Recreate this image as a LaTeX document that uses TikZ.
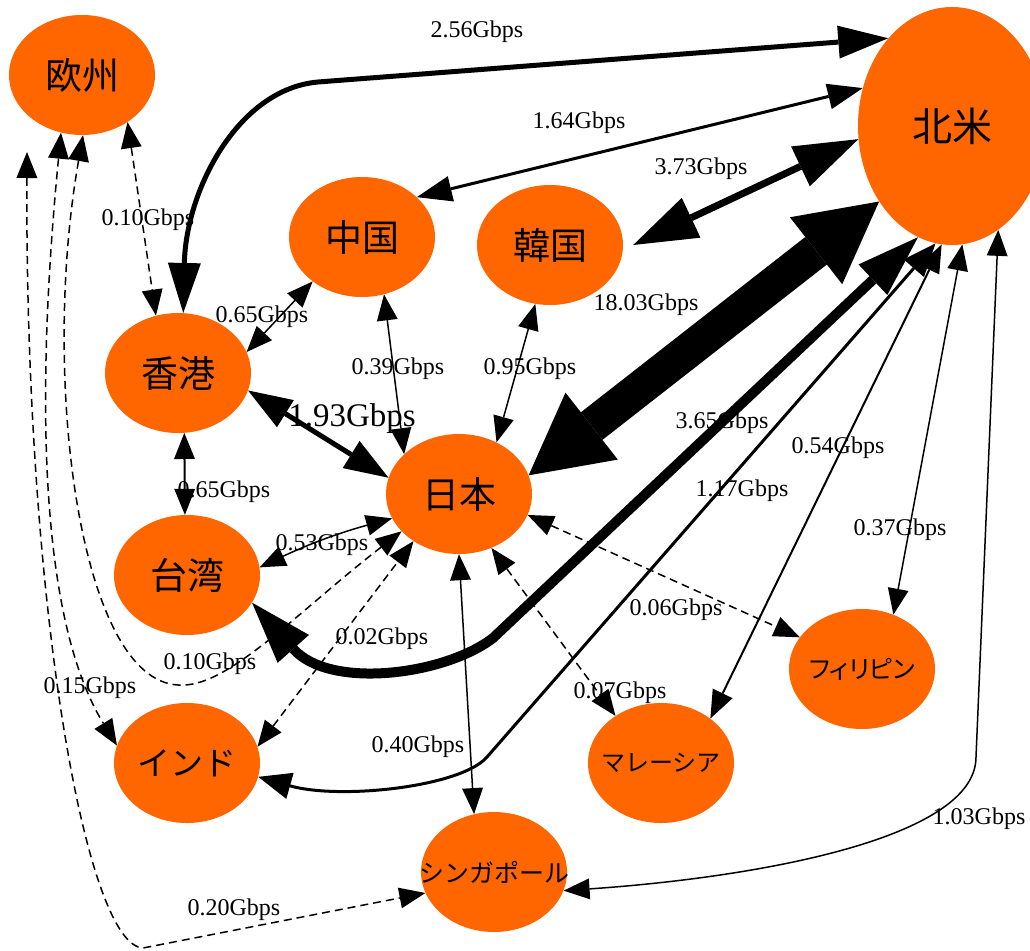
\documentclass[tikz,border=0pt]{standalone}
\usepackage{fontspec}
\setmainfont{Liberation Serif}
\newfontfamily\jp{Noto Sans CJK JP}
\newfontfamily\jpp[RawFeature=+palt]{Noto Sans CJK JP}
\usetikzlibrary{shapes.geometric,arrows.meta}
\definecolor{nodeorange}{HTML}{FF6600}

\begin{document}
\begin{tikzpicture}[
x=1pt, y=-1pt,
region/.style={
	ellipse, fill=nodeorange, inner sep=0pt,
	minimum width=146pt, minimum height=120pt,
	font=\jp\fontsize{37}{44}\selectfont
},
kana/.style={font=\jp\fontsize{#1}{#1}\selectfont, inner xsep=-25pt},
link/.style n args={3}{
	line width=#1pt,
	>={Triangle[length=#2pt,width=#3pt,line width=0pt]}, <->
},
slim/.style={link={1.5}{26}{21}},
dlink/.style={slim, dash pattern=on 8pt off 5pt},
gbps/.style={font=\fontsize{24}{28}\selectfont, inner sep=0pt}
]
\useasboundingbox (0,0) rectangle (1030,950);
% regions
\node[region] (eu) at (82,75) {欧州};
\node[region, minimum width=188pt, minimum height=238pt, kana=40] (usa) at (952,126) {北米};
\node[region] (china) at (362,237) {中国};
\node[region] (korea) at (550,245) {韓国};
\node[region] (hk) at (178,373) {香港};
\node[region] (japan) at (459,494) {日本};
\node[region] (taiwan) at (187,575) {台湾};
\node[region, kana=33] (india) at (187,763) {インド};
\node[region, kana=25] (sg) at (494,872) {シンガポール};
\node[region, kana=24] (my) at (661,763) {マレーシア};
\node[region, kana=25, font=\jpp\fontsize{25}{25}\selectfont] (ph) at (862,669) {フィリピン};
% bends
\coordinate (k256) at (318,82);
\coordinate (k365) at (493,638);
\coordinate (k117) at (487,757);
\coordinate (k103) at (976,757);
\coordinate (k010) at (183,685);
\coordinate (k020) at (143,948);
% traffic labels
\node[gbps] (l256) at (477,32) {2.56Gbps};
\node[gbps] (l164) at (579,123) {1.64Gbps};
\node[gbps] (l373) at (701,169) {3.73Gbps};
\node[gbps] (l1803) at (646,305) {18.03Gbps};
\node[gbps] (l365) at (722,423) {3.65Gbps};
\node[gbps] (l054) at (838,448) {0.54Gbps};
\node[gbps] (l117) at (742,491) {1.17Gbps};
\node[gbps] (l037) at (900,530) {0.37Gbps};
\node[gbps] (l006) at (676,610) {0.06Gbps};
\node[gbps] (l007) at (620,693) {0.07Gbps};
\node[gbps] (l103) at (979,819) {1.03Gbps};
\node[gbps] (l010a) at (148,220) {0.10Gbps};
\node[gbps] (l065a) at (262,317) {0.65Gbps};
\node[gbps] (l039) at (398,369) {0.39Gbps};
\node[gbps] (l095) at (530,369) {0.95Gbps};
\node[gbps, font=\fontsize{33}{38}\selectfont] (l193) at (352,419) {1.93Gbps};
\node[gbps] (l065b) at (224,492) {0.65Gbps};
\node[gbps] (l053) at (322,545) {0.53Gbps};
\node[gbps] (l002) at (382,639) {0.02Gbps};
\node[gbps] (l010b) at (210,664) {0.10Gbps};
\node[gbps] (l015) at (90,688) {0.15Gbps};
\node[gbps] (l040) at (418,747) {0.40Gbps};
\node[gbps] (l020) at (234,910) {0.20Gbps};
% links to north america
\draw[link={5}{50}{33}] (hk.85) .. controls (186,190) and (238,89) .. (k256) -- (usa.126);
\draw[link={3}{35}{26}] (china.36) -- (usa.157);
\draw[link={7}{64}{44}] ([xshift=10pt]korea.east) -- (usa.188);
\draw[link={35}{80}{85}] (japan.15) -- (usa.226);
\draw[link={10}{62}{42}] (taiwan.337) .. controls (330,690) and (445,675) .. (k365) -- (usa.253);
\draw[link={3}{33}{27}] (india.349) .. controls (340,800) and (461,787) .. (k117) -- (usa.262);
\draw[link={2}{28}{22}] (my.42) -- (usa.265);
\draw[slim] (ph.60) -- (usa.275);
\draw[slim] (sg.345) .. controls (750,878) and (976,840) .. (k103) -- (usa.294);
% asia links
\draw[slim] (hk.17) -- (china.222);
\draw[slim] (china.291) -- (japan.144);
\draw[slim] (korea.256) -- (japan.54);
\draw[link={5}{44}{32}] (hk.346) -- (japan.167);
\draw[link={2}{26}{21}] (hk.276) -- (taiwan.92);
\draw[slim] (taiwan.6) to[bend left=5] (japan.200);
\draw[slim] (japan.270) -- (sg.109);
\draw[dlink] (india.13) -- (japan.226);
\draw[dlink] (japan.343) -- (ph.153);
\draw[dlink] (japan.301) -- (my.134);
% links to europe
\draw[dlink] (eu.314) -- (hk.111);
\draw[dlink] (eu.271) .. controls (40,380) and (80,690) .. (k010) .. controls (230,685) and (300,610) .. (japan.213);
\draw[dlink] (eu.250) .. controls (35,400) and (40,620) .. (india.166);
\draw[dlink] ([shift={(-55,77)}]eu.center) .. controls (25,600) and (85,945) .. (k020) -- (sg.197);
\end{tikzpicture}
\end{document}
